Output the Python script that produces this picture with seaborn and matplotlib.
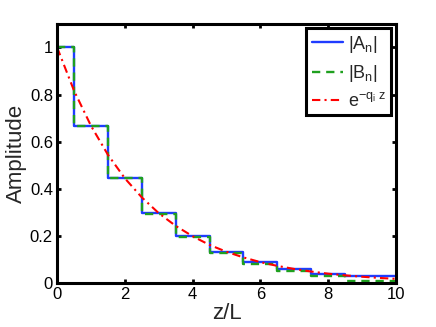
import matplotlib
matplotlib.use("Agg")
import matplotlib.pyplot as plt
import seaborn as sns
import pandas as pd

# ---- data ----
z_step = [0, 0.5, 1.5, 2.5, 3.5, 4.5, 5.5, 6.5, 7.5, 8.5, 10]
A_n = [1.0, 0.667, 0.444, 0.296, 0.198, 0.132, 0.088, 0.059, 0.039, 0.028, 0.028]
B_n = [1.0, 0.667, 0.444, 0.294, 0.195, 0.127, 0.081, 0.051, 0.031, 0.008, 0.008]
z_exp = [0, 0.5, 1, 1.5, 2, 2.5, 3, 3.5, 4, 4.5, 5, 5.5, 6, 6.5, 7, 7.5, 8, 8.5, 9, 9.5, 10]
exp_curve = [1.0, 0.816, 0.667, 0.544, 0.444, 0.363, 0.296, 0.242, 0.198, 0.161,
             0.132, 0.108, 0.088, 0.072, 0.059, 0.048, 0.039, 0.032, 0.026, 0.021, 0.017]
x_ticks = [0, 2, 4, 6, 8, 10]
y_ticks = [0, 0.2, 0.4, 0.6, 0.8, 1.0]
y_ticklabels = ["0", "0.2", "0.4", "0.6", "0.8", "1"]
labels = ["|A$_\\mathregular{n}$|", "|B$_\\mathregular{n}$|", "e$^{-q_\\mathregular{i}\\ z}$"]

sns.set_style("white")
plt.rcParams["font.family"] = ["Liberation Sans", "DejaVu Sans"]
plt.rcParams["mathtext.fontset"] = "custom"
plt.rcParams["mathtext.rm"] = "Liberation Sans"
plt.rcParams["mathtext.it"] = "Liberation Sans"
plt.rcParams["mathtext.default"] = "regular"

fig = plt.figure(figsize=(4.36, 3.27), dpi=100)
ax = fig.add_axes([0.131, 0.135, 0.777, 0.792])

dfA = pd.DataFrame({"z": z_step, "v": A_n})
dfB = pd.DataFrame({"z": z_step, "v": B_n})
dfE = pd.DataFrame({"z": z_exp, "v": exp_curve})

sns.lineplot(data=dfA, x="z", y="v", ax=ax, color="#1f3cff", lw=1.7,
             drawstyle="steps-post", label=labels[0])
sns.lineplot(data=dfB, x="z", y="v", ax=ax, color="#1fa01f", lw=1.7,
             drawstyle="steps-post", label=labels[1])
ax.lines[-1].set_linestyle((0, (3.5, 2.5)))
sns.lineplot(data=dfE, x="z", y="v", ax=ax, color="#ff0000", lw=1.5, label=labels[2])
ax.lines[-1].set_linestyle((0, (4, 2, 1, 2)))

ax.set_xlim(0, 10)
ax.set_ylim(0, 1.1)
ax.set_xticks(x_ticks)
ax.set_xticklabels([str(t) for t in x_ticks])
ax.set_yticks(y_ticks)
ax.set_yticklabels(y_ticklabels)
ax.tick_params(direction="in", length=3, width=2, labelsize=12, top=True, right=True,
               bottom=True, left=True, pad=3, color="black", labelcolor="black")
for s in ax.spines.values():
    s.set_linewidth(2.2)
    s.set_color("black")
    s.set_visible(True)

ax.set_xlabel("z/L", fontsize=16, labelpad=1)
ax.set_ylabel("Amplitude", fontsize=16, labelpad=2)

leg = ax.legend(loc="upper right", fontsize=13, frameon=True, fancybox=False,
                borderaxespad=0.25, handlelength=1.75, labelspacing=0.45,
                borderpad=0.3, handletextpad=0.25)
leg.get_frame().set_edgecolor("black")
leg.get_frame().set_linewidth(2.2)
leg.get_frame().set_alpha(1)

fig.savefig("out.png", dpi=100)
